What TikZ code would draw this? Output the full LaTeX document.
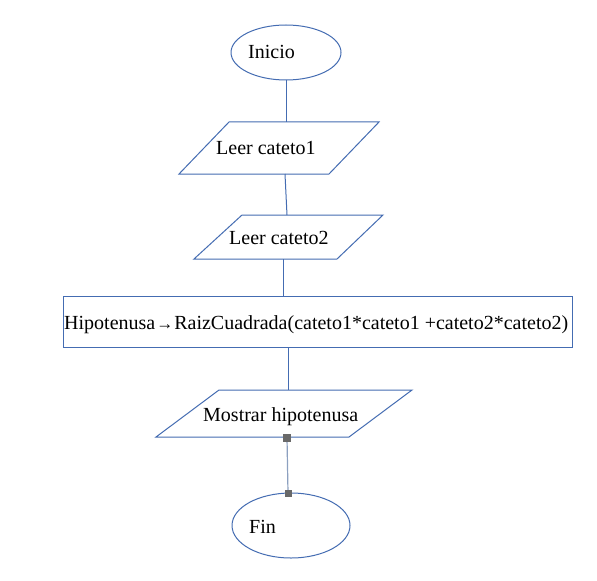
\documentclass[tikz,border=0pt]{standalone}
\usepackage{fontspec}
\setmainfont{Liberation Serif}
\usetikzlibrary{shapes.geometric}
\definecolor{shapeblue}{RGB}{68,108,178}
\definecolor{linkgray}{RGB}{140,160,192}
\definecolor{handle}{RGB}{105,105,105}
\begin{document}
\begin{tikzpicture}[x=1bp,y=-1bp,
  shp/.style={draw=shapeblue,line width=1bp},
  conn/.style={draw=shapeblue,line width=1bp},
  lbl/.style={inner sep=0pt,anchor=base west,font=\fontsize{20bp}{24bp}\selectfont},
  handlebox/.style={fill=handle,draw=none,minimum size=#1,inner sep=0pt,rectangle}]
\useasboundingbox[fill=white] (0,0) rectangle (597,581);
% shapes
\draw[shp] (286,52.5) ellipse [x radius=55,y radius=27.5];
\draw[shp] (229,122) -- (379,122) -- (329,174) -- (179,174) -- cycle;
\draw[shp] (242,215) -- (383,215) -- (337,259) -- (194,259) -- cycle;
\draw[shp] (63,296) rectangle (572,347);
\draw[shp] (219,390) -- (412,390) -- (349,437) -- (156,437) -- cycle;
\draw[shp] (291,525.5) ellipse [x radius=59,y radius=32.5];
% connector ends
\coordinate (iniB) at (286,80);
\coordinate (p1T) at (286,122);
\coordinate (p1B) at (285,174);
\coordinate (p2T) at (287,215);
\coordinate (p2B) at (283,259);
\coordinate (rT) at (283,296);
\coordinate (rB) at (288,347);
\coordinate (p3T) at (288,390);
\coordinate (p3B) at (287,438);
\coordinate (finT) at (288,493);
% texts
\node[lbl] (tini) at (248,59) {Inicio};
\node[lbl] (tl1) at (216,155) {Leer cateto1};
\node[lbl] (tl2) at (229,244) {Leer cateto2};
\node[lbl] (tcalc) at (64,329) {Hipotenusa{\fontsize{17bp}{18bp}\selectfont\kern1bp→\kern1bp}RaizCuadrada(cateto1*cateto1 +cateto2*cateto2)};
\node[lbl] (tmos) at (203,421) {Mostrar hipotenusa};
\node[lbl] (tfin) at (249,533) {Fin};
% connectors
\draw[conn] (iniB) -- (p1T);
\draw[conn] (p1B) -- (p2T);
\draw[conn] (p2B) -- (rT);
\draw[conn] (rB) -- (p3T);
\draw[draw=linkgray,line width=1.2bp] (p3B) -- (finT);
\node[handlebox=8bp] (h1) at (p3B) {};
\node[handlebox=7bp] (h2) at (finT) {};
\end{tikzpicture}
\end{document}
